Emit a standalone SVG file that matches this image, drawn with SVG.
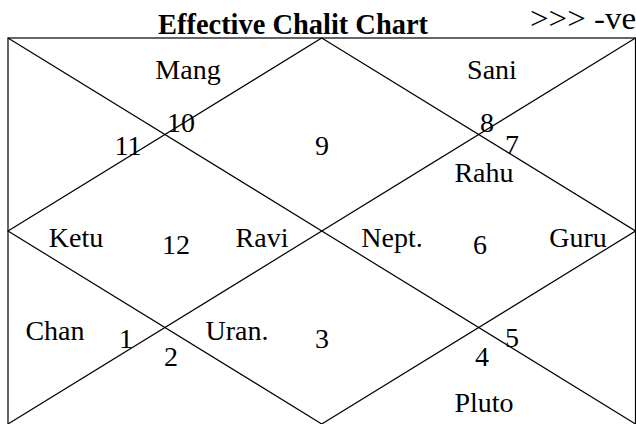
<svg xmlns="http://www.w3.org/2000/svg" width="636" height="424" viewBox="0 0 636 424">
<style>
.ln{stroke:#000;stroke-width:1.2;fill:none}
.t{font-family:"Liberation Serif","Times New Roman",serif;font-size:28px;fill:#000;text-anchor:middle}
.title{font-family:"Liberation Serif","Times New Roman",serif;font-size:30px;font-weight:bold;fill:#000}
.neg{font-family:"Liberation Serif","Times New Roman",serif;font-size:31px;fill:#000}
</style>
<rect width="636" height="424" fill="#fff"/>
<text class="title" x="158" y="34" textLength="270" lengthAdjust="spacingAndGlyphs">Effective Chalit Chart</text>
<text class="neg" x="530" y="29" textLength="106" lengthAdjust="spacingAndGlyphs">&gt;&gt;&gt; -ve</text>
<g id="connectors">
<rect class="ln" x="8" y="38" width="627.5" height="390"/>
<line class="ln" x1="8" y1="38" x2="635.5" y2="424"/>
<line class="ln" x1="635.5" y1="38" x2="8" y2="424"/>
<polygon class="ln" points="321.75,38 635.5,231 321.75,424 8,231"/>
</g>
<g id="house1"><text class="t" x="55" y="340">Chan</text><text class="t" x="126" y="348">1</text></g>
<g id="house2"><text class="t" x="171" y="366">2</text><text class="t" x="237" y="340">Uran.</text></g>
<g id="house3"><text class="t" x="322" y="348">3</text></g>
<g id="house4"><text class="t" x="482" y="366">4</text><text class="t" x="484" y="412">Pluto</text></g>
<g id="house5"><text class="t" x="512" y="347">5</text></g>
<g id="house6"><text class="t" x="392" y="247">Nept.</text><text class="t" x="480" y="254">6</text><text class="t" x="578" y="247">Guru</text></g>
<g id="house7"><text class="t" x="512" y="154">7</text><text class="t" x="484" y="182">Rahu</text></g>
<g id="house8"><text class="t" x="487" y="132">8</text><text class="t" x="492" y="79">Sani</text></g>
<g id="house9"><text class="t" x="322" y="155">9</text></g>
<g id="house10"><text class="t" x="181" y="132">10</text><text class="t" x="188" y="79">Mang</text></g>
<g id="house11"><text class="t" x="128" y="155">11</text></g>
<g id="house12"><text class="t" x="76" y="247">Ketu</text><text class="t" x="176" y="254">12</text><text class="t" x="262" y="247">Ravi</text></g>
</svg>
